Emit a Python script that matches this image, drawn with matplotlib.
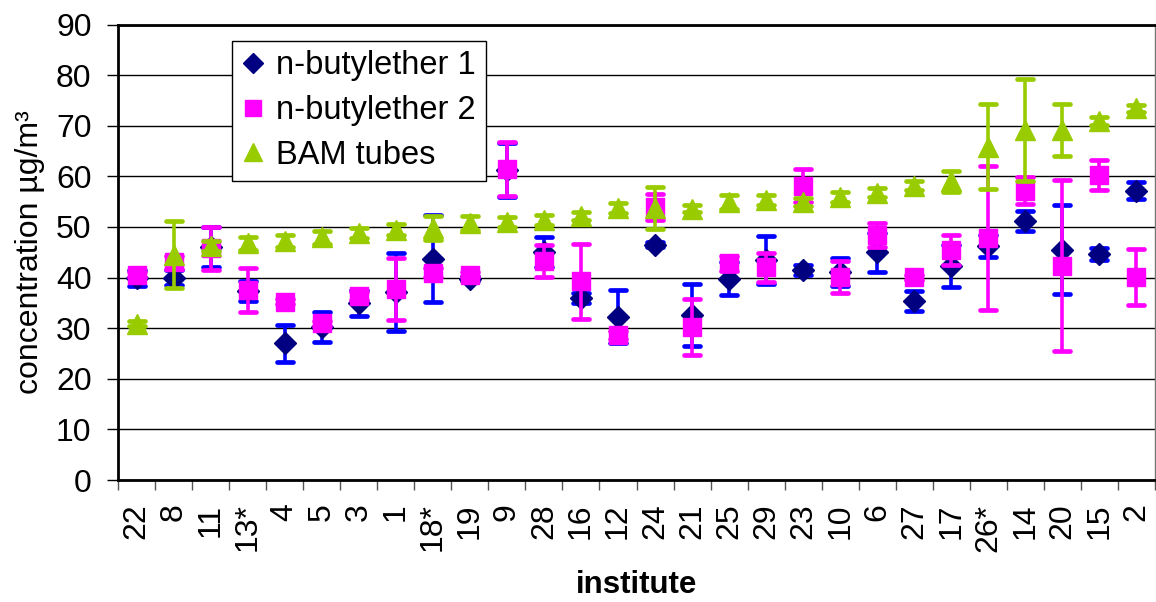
import matplotlib
matplotlib.use("Agg")
import matplotlib.pyplot as plt
from matplotlib.markers import MarkerStyle
import numpy as np

plt.rcParams['font.family'] = ['Liberation Sans', 'DejaVu Sans']

institutes = ['22', '8', '11', '13*', '4', '5', '3', '1', '18*', '19', '9', '28', '16', '12',
              '24', '21', '25', '29', '23', '10', '6', '27', '17', '26*', '14', '20', '15', '2']

nb1 = [40.0, 40.0, 46.0, 37.3, 27.0, 30.3, 35.0, 37.2, 43.7, 39.8, 61.3, 45.0, 36.0, 32.3,
       46.5, 32.6, 39.8, 43.5, 41.5, 41.1, 45.0, 35.4, 42.3, 46.3, 51.2, 45.5, 44.7, 57.2]
nb1_err = [1.6, 1.5, 4.0, 2.0, 3.7, 3.0, 2.5, 7.7, 8.6, 0.5, 5.3, 3.0, 1.0, 5.2,
           0.5, 6.1, 3.3, 4.75, 0.9, 2.8, 3.8, 2.0, 4.2, 2.2, 2.0, 8.8, 1.2, 1.7]

nb2 = [40.6, 43.0, 45.8, 37.5, 35.2, 31.0, 36.3, 37.8, 41.0, 40.6, 61.5, 43.3, 39.3, 28.7,
       54.0, 30.3, 42.8, 42.0, 58.2, 40.1, 48.4, 40.1, 45.4, 47.8, 57.2, 42.3, 60.2, 40.1]
nb2_err = [0.5, 1.3, 4.2, 4.3, 0.5, 0.5, 0.8, 6.1, 0.8, 0.5, 5.3, 3.2, 7.4, 0.8,
           2.6, 5.5, 1.5, 2.9, 3.3, 3.1, 2.4, 0.5, 3.0, 14.3, 2.7, 16.9, 2.95, 5.5]

bam = [30.9, 44.5, 46.3, 46.8, 47.2, 48.0, 48.9, 49.5, 49.85, 50.8, 51.0, 51.4, 52.1, 53.8,
       53.8, 53.6, 54.9, 55.4, 55.0, 56.0, 56.8, 58.2, 59.0, 65.9, 69.2, 69.2, 71.0, 73.5]
bam_err = [0.5, 6.6, 1.0, 1.3, 1.2, 1.3, 1.0, 1.0, 2.35, 1.3, 1.0, 1.0, 0.8, 1.0,
           4.2, 0.7, 1.4, 1.0, 0.8, 1.0, 0.9, 0.9, 2.0, 8.4, 10.1, 5.2, 0.8, 0.7]

fig = plt.figure(figsize=(11.56, 6.02), dpi=100)
ax = fig.add_axes([118/1156, 1 - 480/602, 1037/1156, 455.4/602])

x = np.arange(len(institutes))

series = [
    (nb1, nb1_err, 'D', '#000080', '#0000FF', 'n-butylether 1', 11.5),
    (nb2, nb2_err, 's', '#FF00FF', '#FF00FF', 'n-butylether 2', 13),
    (bam, bam_err, '^', '#99CC00', '#99CC00', 'BAM tubes', 14),
]
handles = []
for i, (vals, errs, mk, mc, ec, lab, ms) in enumerate(series):
    cont = ax.errorbar(x, vals, yerr=errs, fmt=mk, color=mc, ecolor=ec, mfc=mc, mec=mc,
                       ms=ms, elinewidth=2.6, capsize=5.8, capthick=2.6, label=lab,
                       zorder=3 + i)
    for cap in cont[1]:
        cap.set_marker(MarkerStyle('_', capstyle='round'))
        cap.set_markeredgewidth(3.4)
    for bl in cont[2]:
        bl.set_capstyle('butt')
    handles.append(cont)

ax.set_xlim(-0.5, len(institutes) - 0.5)
ax.set_ylim(0, 90)
ax.set_yticks(np.arange(0, 91, 10))
ax.yaxis.grid(True, color='#000000', lw=1.0)
ax.set_axisbelow(True)

ax.set_xticks(np.arange(-0.5, len(institutes) + 0.5, 1.0))
ax.set_xticklabels([])
ax.set_xticks(x, minor=True)
ax.set_xticklabels(institutes, minor=True, rotation=90, fontsize=23, va='top', ha='center')
ax.tick_params(axis='x', which='major', direction='out', length=7.5, width=1.0, color='#555555')
ax.tick_params(axis='x', which='minor', length=0, pad=17)
ax.tick_params(axis='y', direction='out', length=8, width=1.0, pad=11, labelsize=23)

for s in ['left', 'bottom']:
    ax.spines[s].set_linewidth(2.0)
    ax.spines[s].set_color('black')
ax.spines['top'].set_linewidth(2.0)
ax.spines['top'].set_color('black')
ax.spines['right'].set_linewidth(1.0)
ax.spines['right'].set_color('#777777')

ax.set_ylabel('concentration µg/m³', fontsize=23, labelpad=8)
ax.set_xlabel('institute', fontsize=22.5, fontweight='bold', labelpad=13)

leg = ax.legend(handles=[h[0] for h in handles],
                labels=['n-butylether 1', 'n-butylether 2', 'BAM tubes'],
                loc='upper left', bbox_to_anchor=(0.11, 0.965), fontsize=23.5,
                frameon=True, fancybox=False, edgecolor='black', framealpha=1,
                handlelength=0.7, handletextpad=0.35, labelspacing=0.42,
                borderpad=0.3, borderaxespad=0, markerscale=0.9)
leg.get_frame().set_linewidth(1.0)

fig.savefig('out.png', dpi=100)
